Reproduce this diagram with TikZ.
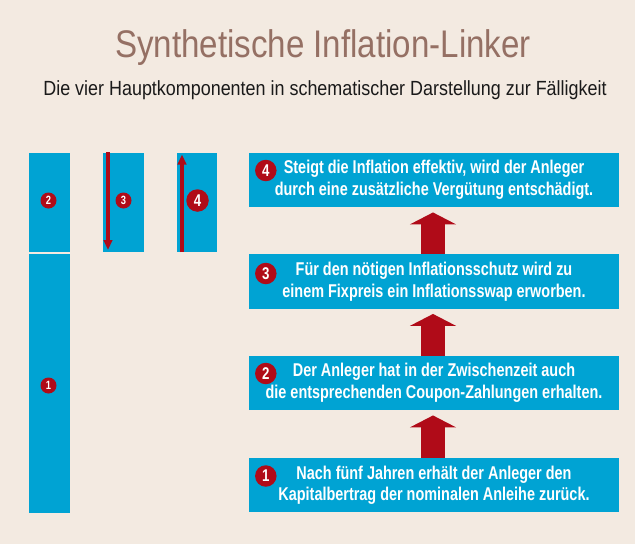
\documentclass[tikz,border=0pt]{standalone}
\usepackage{fontspec}
\usetikzlibrary{arrows.meta}
\setmainfont{Liberation Sans}
\newfontfamily\titlefont{Liberation Sans}[FakeStretch=0.86]
\newfontfamily\subfont{Liberation Sans}[FakeStretch=0.875]
\newfontfamily\boxfont{Liberation Sans}[FakeStretch=0.78]
\definecolor{bgc}{HTML}{F3EAE1}
\definecolor{bluec}{HTML}{00A3D3}
\definecolor{redc}{HTML}{B00B18}
\definecolor{titlec}{HTML}{957064}
\definecolor{subc}{HTML}{1A1A1A}
\tikzset{
  colbox/.style={fill=bluec, draw=none},
  numsmall/.style={circle, fill=redc, inner sep=0pt, minimum size=16pt, text=white, font=\boxfont\bfseries\fontsize{12}{12}\selectfont},
  numbig/.style={circle, fill=redc, inner sep=0pt, minimum size=21.5pt, text=white, font=\boxfont\bfseries\fontsize{17}{17}\selectfont},
  textbox/.style={fill=bluec, draw=none, minimum width=370pt, minimum height=54.5pt, inner sep=0pt, text=white, align=center, font=\boxfont\bfseries\fontsize{18.5}{21.7}\selectfont},
  thinarrow/.style={draw=redc, line width=4pt, -{Triangle[width=8.5pt,length=10pt]}},
  bigarrow/.style={draw=redc, line width=24pt, -{Triangle[width=46pt,length=12pt]}, shorten >=5pt}
}
\begin{document}
\begin{tikzpicture}[x=1pt, y=-1pt]
\fill[bgc] (0,0) rectangle (635,544);
\useasboundingbox (0,0) rectangle (635,544);

% title
\node[anchor=base, text=titlec, font=\titlefont\fontsize{38.5}{40}\selectfont, inner sep=0pt] (title) at (323,57) {Synthetische Inflation-Linker};
\node[anchor=base, text=subc, font=\subfont\fontsize{20.5}{22}\selectfont, inner sep=0pt] (subtitle) at (325,95) {Die vier Hauptkomponenten in schematischer Darstellung zur Fälligkeit};

% left columns
\fill[colbox] (29,153) rectangle (70,252);
\fill[colbox] (29,254) rectangle (70,513);
\fill[colbox] (103,153) rectangle (144,252);
\fill[colbox] (177,153) rectangle (217,252);
\coordinate (a3s) at (108,152);
\coordinate (a3e) at (108,250);
\coordinate (a4s) at (182,252);
\coordinate (a4e) at (182,154.5);
\draw[thinarrow] (a3s) -- (a3e);
\draw[thinarrow] (a4s) -- (a4e);
\node[numsmall] (c2) at (48.5,200.5) {2};
\node[numsmall] (c1) at (48.5,385.5) {1};
\node[numsmall] (c3) at (123.5,200.5) {3};
\node[numbig, minimum size=22.5pt] (c4) at (197.5,200.5) {4};

% right text boxes
\node[textbox] (r4) at (434,180) {Steigt die Inflation effektiv, wird der Anleger\\durch eine zusätzliche Vergütung entschädigt.};
\node[textbox] (r3) at (434,281.5) {Für den nötigen Inflationsschutz wird zu\\einem Fixpreis ein Inflationsswap erworben.};
\node[textbox] (r2) at (434,383) {Der Anleger hat in der Zwischenzeit auch\\die entsprechenden Coupon-Zahlungen erhalten.};
\node[textbox] (r1) at (434,485.2) {Nach fünf Jahren erhält der Anleger den\\Kapitalbertrag der nominalen Anleihe zurück.};

\node[numbig] (n4) at (265.8,170.5) {4};
\node[numbig] (n3) at (265.8,273.5) {3};
\node[numbig] (n2) at (265.8,373.5) {2};
\node[numbig] (n1) at (265.8,476) {1};

% big arrows
\draw[bigarrow] ([xshift=-1pt]r1.north) -- ([xshift=-1pt]r2.south);
\draw[bigarrow] ([xshift=-1pt]r2.north) -- ([xshift=-1pt]r3.south);
\draw[bigarrow] ([xshift=-1pt]r3.north) -- ([xshift=-1pt]r4.south);
\end{tikzpicture}
\end{document}
